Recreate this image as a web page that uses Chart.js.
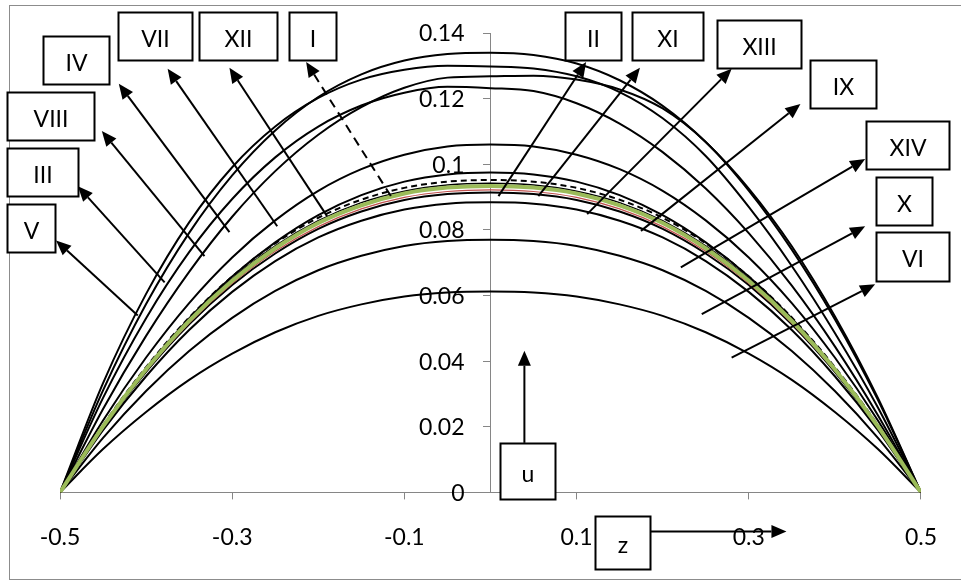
<!DOCTYPE html>
<html>
<head>
<meta charset="utf-8">
<script src="https://cdn.jsdelivr.net/npm/chart.js@4.4.1/dist/chart.umd.min.js"></script>
<style>
  html, body { margin: 0; padding: 0; background: #fff; }
  #wrap { width: 961px; height: 581px; }
</style>
</head>
<body>
<div id="wrap"><canvas id="profileChart" width="961" height="581"></canvas></div>
<script>
// z positions across the channel and the velocity u of each profile
const zValues = [-0.5, -0.45, -0.4, -0.35, -0.3, -0.25, -0.2, -0.15, -0.1, -0.05, 0, 0.05, 0.1, 0.15, 0.2, 0.25, 0.3, 0.35, 0.4, 0.45, 0.5];

const curveV    = [0, 0.0333, 0.0605, 0.0823, 0.0991, 0.1115, 0.1202, 0.1258, 0.1288, 0.1300, 0.1298, 0.1292, 0.1268, 0.1220, 0.1140, 0.1025, 0.0870, 0.0690, 0.0486, 0.0259, 0];
const curveIII  = [0, 0.0311, 0.0574, 0.0791, 0.0966, 0.1103, 0.1205, 0.1274, 0.1316, 0.1336, 0.1340, 0.1333, 0.1307, 0.1256, 0.1178, 0.1068, 0.0926, 0.0750, 0.0537, 0.0288, 0];
const curveVIII = [0, 0.0288, 0.0531, 0.0732, 0.0894, 0.1021, 0.1115, 0.1179, 0.1218, 0.1236, 0.1232, 0.1223, 0.1186, 0.1124, 0.1037, 0.0926, 0.0790, 0.0630, 0.0445, 0.0235, 0];
const curveIV   = [0, 0.0254, 0.0477, 0.0672, 0.0840, 0.0979, 0.1090, 0.1174, 0.1233, 0.1264, 0.1268, 0.1270, 0.1258, 0.1228, 0.1170, 0.1068, 0.0920, 0.0740, 0.0528, 0.0282, 0];
const curveVII  = [0, 0.0219, 0.0411, 0.0577, 0.0716, 0.0829, 0.0919, 0.0985, 0.1029, 0.1054, 0.1060, 0.1054, 0.1029, 0.0985, 0.0919, 0.0829, 0.0716, 0.0577, 0.0411, 0.0219, 0];
const curveXII  = [0, 0.0202, 0.0378, 0.0530, 0.0658, 0.0762, 0.0845, 0.0906, 0.0947, 0.0969, 0.0975, 0.0969, 0.0947, 0.0906, 0.0845, 0.0762, 0.0658, 0.0530, 0.0378, 0.0202, 0];
const curveI    = [0, 0.0205, 0.0382, 0.0533, 0.0658, 0.0759, 0.0837, 0.0892, 0.0928, 0.0947, 0.0952, 0.0947, 0.0928, 0.0892, 0.0837, 0.0759, 0.0658, 0.0533, 0.0382, 0.0205, 0];
const curveII   = [0, 0.0203, 0.0378, 0.0528, 0.0651, 0.0751, 0.0828, 0.0883, 0.0918, 0.0937, 0.0942, 0.0937, 0.0918, 0.0883, 0.0828, 0.0751, 0.0651, 0.0528, 0.0378, 0.0203, 0];
const curveXI   = [0, 0.0201, 0.0375, 0.0523, 0.0645, 0.0744, 0.0821, 0.0875, 0.0911, 0.0929, 0.0934, 0.0929, 0.0911, 0.0875, 0.0821, 0.0744, 0.0645, 0.0523, 0.0375, 0.0201, 0];
const curveXIII = [0, 0.0198, 0.0370, 0.0516, 0.0637, 0.0735, 0.0810, 0.0864, 0.0899, 0.0917, 0.0922, 0.0917, 0.0899, 0.0864, 0.0810, 0.0735, 0.0637, 0.0516, 0.0370, 0.0198, 0];
const curveIX   = [0, 0.0197, 0.0367, 0.0512, 0.0632, 0.0728, 0.0803, 0.0856, 0.0891, 0.0909, 0.0914, 0.0909, 0.0891, 0.0856, 0.0803, 0.0728, 0.0632, 0.0512, 0.0367, 0.0197, 0];
const curveXIV  = [0, 0.0190, 0.0354, 0.0495, 0.0611, 0.0705, 0.0777, 0.0828, 0.0862, 0.0880, 0.0884, 0.0880, 0.0862, 0.0828, 0.0777, 0.0705, 0.0611, 0.0495, 0.0354, 0.0190, 0];
const curveX    = [0, 0.0166, 0.0309, 0.0431, 0.0532, 0.0614, 0.0677, 0.0721, 0.0751, 0.0766, 0.0770, 0.0766, 0.0751, 0.0721, 0.0677, 0.0614, 0.0532, 0.0431, 0.0309, 0.0166, 0];
const curveVI   = [0, 0.0132, 0.0245, 0.0343, 0.0423, 0.0488, 0.0538, 0.0573, 0.0597, 0.0609, 0.0612, 0.0609, 0.0597, 0.0573, 0.0538, 0.0488, 0.0423, 0.0343, 0.0245, 0.0132, 0];

const xTicks = [-0.5, -0.3, -0.1, 0.1, 0.3, 0.5];
const yTicks = [0, 0.02, 0.04, 0.06, 0.08, 0.1, 0.12, 0.14];

const FONT = '23px Lato';

const curves = [
  { label: 'XI', values: curveXI, color: '#9bbb59', width: 4 },
  { label: 'XIII', values: curveXIII, color: '#c0504d', width: 1.2 },
  { label: 'I', values: curveI, color: '#000', width: 2, dash: [6, 4] },
  { label: 'II', values: curveII, color: '#000', width: 1.5 },
  { label: 'IX', values: curveIX, color: '#000', width: 2 },
  { label: 'V', values: curveV, color: '#000', width: 2 },
  { label: 'III', values: curveIII, color: '#000', width: 2 },
  { label: 'VIII', values: curveVIII, color: '#000', width: 2 },
  { label: 'IV', values: curveIV, color: '#000', width: 2 },
  { label: 'VII', values: curveVII, color: '#000', width: 2 },
  { label: 'XII', values: curveXII, color: '#000', width: 2 },
  { label: 'XIV', values: curveXIV, color: '#000', width: 2 },
  { label: 'X', values: curveX, color: '#000', width: 2 },
  { label: 'VI', values: curveVI, color: '#000', width: 2 }
];

// callout boxes [z1, uTop, z2, uBottom] and arrows tail -> head, in data units
const callouts = [
  { text: 'V',    box: [-0.5613, 0.0878, -0.5058, 0.0732], tail: [-0.4097, 0.0539], head: [-0.5046, 0.0768] },
  { text: 'III',  box: [-0.5613, 0.1049, -0.4792, 0.0902], tail: [-0.3785, 0.0640], head: [-0.4792, 0.0933] },
  { text: 'VIII', box: [-0.5613, 0.1220, -0.4606, 0.1074], tail: [-0.3322, 0.0720], head: [-0.4514, 0.1101] },
  { text: 'IV',   box: [-0.5197, 0.1391, -0.4433, 0.1245], tail: [-0.3032, 0.0793], head: [-0.4317, 0.1245] },
  { text: 'VII',  box: [-0.4329, 0.1465, -0.3472, 0.1318], tail: [-0.2477, 0.0811], head: [-0.3750, 0.1291] },
  { text: 'XII',  box: [-0.3380, 0.1465, -0.2477, 0.1318], tail: [-0.1898, 0.0842], head: [-0.3032, 0.1294] },
  { text: 'I',    box: [-0.2338, 0.1465, -0.1794, 0.1318], tail: [-0.1157, 0.0903], head: [-0.2141, 0.1312], dashed: true },
  { text: 'II',   box: [0.0868, 0.1465, 0.1516, 0.1318], tail: [0.0093, 0.0903], head: [0.1111, 0.1312] },
  { text: 'XI',   box: [0.1644, 0.1465, 0.2465, 0.1318], tail: [0.0556, 0.0903], head: [0.1736, 0.1294] },
  { text: 'XIII', box: [0.2627, 0.1440, 0.3611, 0.1294], tail: [0.1123, 0.0848], head: [0.2801, 0.1291] },
  { text: 'IX',   box: [0.3715, 0.1318, 0.4479, 0.1171], tail: [0.1748, 0.0797], head: [0.3600, 0.1184] },
  { text: 'XIV',  box: [0.4363, 0.1132, 0.5324, 0.0985], tail: [0.2211, 0.0686], head: [0.4352, 0.1016] },
  { text: 'X',    box: [0.4479, 0.0961, 0.5127, 0.0814], tail: [0.2454, 0.0543], head: [0.4352, 0.0811] },
  { text: 'VI',   box: [0.4479, 0.0793, 0.5324, 0.0643], tail: [0.2801, 0.0411], head: [0.4468, 0.0634] },
  { text: 'u',    box: [0.0116, 0.0151, 0.0752, -0.0019], tail: [0.0394, 0.0151], head: [0.0394, 0.0432] },
  { text: 'z',    box: [0.1215, -0.0071, 0.1852, -0.0233], tail: [0.1852, -0.0119], head: [0.3438, -0.0119] }
];

function formatU(v) {
  return v === 0 ? '0' : String(parseFloat(v.toFixed(2)));
}

function drawArrow(ctx, x1, y1, x2, y2, dashed) {
  const ang = Math.atan2(y2 - y1, x2 - x1);
  const head = 15, half = 6.5;
  const bx = x2 - head * Math.cos(ang);
  const by = y2 - head * Math.sin(ang);
  ctx.setLineDash(dashed ? [9, 6] : []);
  ctx.beginPath();
  ctx.moveTo(x1, y1);
  ctx.lineTo(bx, by);
  ctx.stroke();
  ctx.setLineDash([]);
  ctx.beginPath();
  ctx.moveTo(x2, y2);
  ctx.lineTo(bx + half * Math.sin(ang), by - half * Math.cos(ang));
  ctx.lineTo(bx - half * Math.sin(ang), by + half * Math.cos(ang));
  ctx.closePath();
  ctx.fill();
}

const calloutPlugin = {
  id: 'callouts',
  beforeDraw(chart) {
    const ctx = chart.ctx;
    ctx.save();
    ctx.fillStyle = '#fff';
    ctx.fillRect(0, 0, chart.width, chart.height);
    // frame runs off the right edge of the picture
    ctx.strokeStyle = '#8c8c8c';
    ctx.lineWidth = 1;
    ctx.strokeRect(9.5, 5.5, chart.width, chart.height - 7);
    ctx.restore();
  },
  beforeDatasetsDraw(chart) {
    // y tick labels sit left of the axis that crosses at z = 0
    const ctx = chart.ctx;
    const x0 = chart.scales.x.getPixelForValue(0);
    ctx.save();
    ctx.font = FONT;
    ctx.fillStyle = '#000';
    ctx.textAlign = 'right';
    ctx.textBaseline = 'middle';
    yTicks.forEach(v => ctx.fillText(formatU(v), x0 - 26, chart.scales.y.getPixelForValue(v) + 1));
    ctx.restore();
  },
  afterDatasetsDraw(chart) {
    const ctx = chart.ctx;
    const xs = chart.scales.x, ys = chart.scales.y;
    ctx.save();
    ctx.strokeStyle = '#000';
    ctx.fillStyle = '#000';
    ctx.lineWidth = 2;
    callouts.forEach(c => {
      drawArrow(ctx, xs.getPixelForValue(c.tail[0]), ys.getPixelForValue(c.tail[1]),
        xs.getPixelForValue(c.head[0]), ys.getPixelForValue(c.head[1]), c.dashed);
    });
    ctx.font = FONT;
    ctx.textAlign = 'center';
    ctx.textBaseline = 'middle';
    callouts.forEach(c => {
      const x1 = Math.round(xs.getPixelForValue(c.box[0])) + 0.5;
      const y1 = Math.round(ys.getPixelForValue(c.box[1])) + 0.5;
      const x2 = Math.round(xs.getPixelForValue(c.box[2])) + 0.5;
      const y2 = Math.round(ys.getPixelForValue(c.box[3])) + 0.5;
      ctx.fillStyle = '#fff';
      ctx.fillRect(x1, y1, x2 - x1, y2 - y1);
      ctx.strokeRect(x1, y1, x2 - x1, y2 - y1);
      ctx.fillStyle = '#000';
      ctx.fillText(c.text, (x1 + x2) / 2, (y1 + y2) / 2 + 3);
    });
    ctx.restore();
  }
};

const ctx = document.getElementById('profileChart').getContext('2d');

new Chart(ctx, {
  type: 'line',
  data: {
    datasets: curves.map(c => ({
      label: c.label,
      data: zValues.map((z, i) => ({ x: z, y: c.values[i] })),
      borderColor: c.color,
      borderWidth: c.width,
      borderDash: c.dash || [],
      pointRadius: 0,
      fill: false,
      cubicInterpolationMode: 'monotone'
    }))
  },
  options: {
    responsive: false,
    animation: false,
    devicePixelRatio: 1,
    events: [],
    layout: { padding: { top: 33, left: 60, right: 34, bottom: 6 } },
    plugins: { legend: { display: false }, tooltip: { enabled: false } },
    scales: {
      x: {
        type: 'linear',
        min: -0.5,
        max: 0.5,
        afterBuildTicks: scale => { scale.ticks = xTicks.map(v => ({ value: v })); },
        ticks: { font: { family: 'Lato', size: 23 }, color: '#000', padding: 24, maxRotation: 0, callback: v => String(v) },
        grid: { drawOnChartArea: false, tickLength: 7, color: '#868686' },
        border: { color: '#868686' }
      },
      y: {
        type: 'linear',
        min: 0,
        max: 0.14,
        position: { x: 0 },
        afterBuildTicks: scale => { scale.ticks = yTicks.map(v => ({ value: v })); },
        ticks: { display: false },
        grid: { drawOnChartArea: false, tickLength: 7, color: '#868686' },
        border: { color: '#868686' }
      }
    }
  },
  plugins: [calloutPlugin]
});
</script>
</body>
</html>
